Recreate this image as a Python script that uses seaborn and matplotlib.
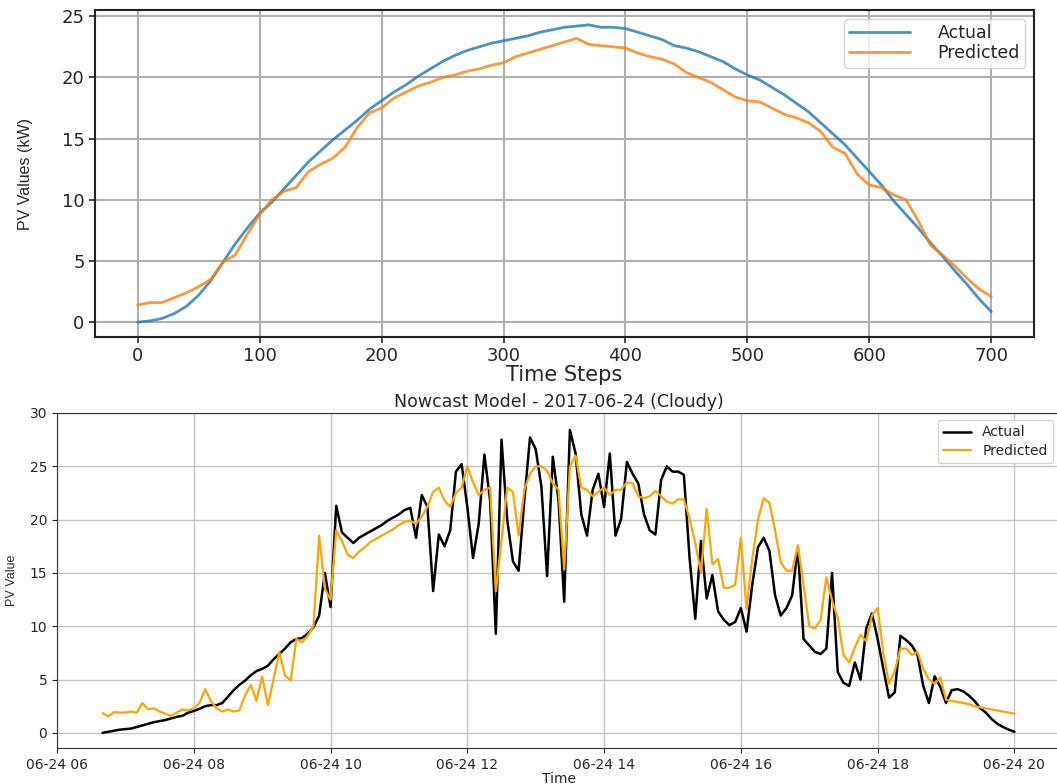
import pandas as pd
import seaborn as sns
import matplotlib
matplotlib.use("Agg")
import matplotlib.pyplot as plt
import matplotlib.dates as mdates

# ---- top panel: clear-sky day, sampled every 10 time steps ----
steps = list(range(0, 701, 10))
top_actual = [
    0.0, 0.1, 0.3, 0.7, 1.3, 2.2, 3.4, 4.9, 6.4, 7.7,
    8.9, 9.8, 10.9, 12.0, 13.1, 14.0, 14.9, 15.7, 16.5, 17.4,
    18.1, 18.8, 19.4, 20.1, 20.7, 21.3, 21.8, 22.2, 22.5, 22.8,
    23.0, 23.2, 23.4, 23.7, 23.9, 24.1, 24.2, 24.3, 24.1, 24.1,
    24.0, 23.7, 23.4, 23.1, 22.6, 22.4, 22.1, 21.7, 21.3, 20.7,
    20.2, 19.8, 19.2, 18.6, 17.9, 17.2, 16.3, 15.4, 14.5, 13.4,
    12.3, 11.2, 9.9, 8.8, 7.7, 6.5, 5.4, 4.2, 3.1, 1.9,
    0.85,
]
top_predicted = [
    1.4, 1.6, 1.6, 2.0, 2.4, 2.9, 3.5, 4.9, 5.5, 7.2,
    8.8, 10.0, 10.7, 11.0, 12.3, 12.9, 13.4, 14.3, 15.9, 17.1,
    17.5, 18.3, 18.8, 19.3, 19.6, 20.0, 20.2, 20.5, 20.7, 21.0,
    21.2, 21.7, 22.0, 22.3, 22.6, 22.9, 23.2, 22.7, 22.6, 22.5,
    22.4, 22.0, 21.7, 21.5, 21.1, 20.4, 20.0, 19.6, 19.0, 18.4,
    18.1, 18.0, 17.5, 17.0, 16.7, 16.3, 15.6, 14.3, 13.8, 12.1,
    11.2, 11.0, 10.4, 10.0, 8.3, 6.3, 5.5, 4.6, 3.6, 2.7,
    2.1,
]

# ---- bottom panel: nowcast 2017-06-24, every 5 min from 06:40 to 20:00 ----
nowcast_start = "2017-06-24 06:40"
nowcast_freq = "5min"
now_actual = [
    0.0, 0.1, 0.2, 0.3, 0.35, 0.4, 0.55, 0.7, 0.85, 1.0,
    1.1, 1.2, 1.35, 1.5, 1.6, 1.9, 2.05, 2.25, 2.5, 2.6,
    2.6, 2.8, 3.4, 4.0, 4.5, 4.9, 5.4, 5.8, 6.0, 6.3,
    6.9, 7.4, 7.9, 8.5, 8.8, 8.9, 9.3, 9.9, 11.0, 15.0,
    11.8, 21.3, 18.8, 18.3, 17.8, 18.3, 18.6, 18.9, 19.2, 19.5,
    19.9, 20.2, 20.5, 20.9, 21.1, 18.3, 22.3, 21.2, 13.3, 18.6,
    17.5, 19.0, 24.5, 25.2, 21.2, 16.4, 19.6, 26.1, 21.8, 9.3,
    27.5, 20.0, 16.1, 15.2, 21.8, 27.7, 26.6, 23.1, 14.7, 25.9,
    21.8, 12.3, 28.4, 26.2, 20.5, 18.5, 22.8, 24.3, 21.2, 26.2,
    18.5, 20.1, 25.4, 24.3, 23.4, 20.5, 19.0, 18.6, 23.7, 25.0,
    24.5, 24.5, 24.2, 16.4, 10.7, 18.0, 12.6, 14.8, 11.4, 10.6,
    10.1, 10.4, 11.7, 9.5, 13.9, 17.4, 18.3, 17.1, 12.9, 11.0,
    11.7, 12.9, 17.4, 8.8, 8.2, 7.6, 7.4, 7.9, 15.0, 5.7,
    4.7, 4.4, 6.6, 5.0, 9.8, 11.2, 8.8, 6.0, 3.3, 3.8,
    9.1, 8.7, 8.2, 7.3, 4.4, 2.8, 5.3, 4.3, 2.8, 4.0,
    4.1, 3.9, 3.5, 3.0, 2.3, 1.9, 1.3, 0.85, 0.55, 0.3,
    0.1,
]
now_predicted = [
    1.85, 1.55, 1.95, 1.9, 1.9, 2.0, 1.9, 2.8, 2.2, 2.3,
    2.0, 1.8, 1.6, 1.9, 2.2, 2.1, 2.3, 2.8, 4.1, 3.0,
    2.3, 2.0, 2.2, 2.0, 2.1, 3.5, 4.5, 3.0, 5.3, 2.6,
    5.0, 7.6, 5.4, 4.9, 8.8, 8.5, 9.1, 10.0, 18.5, 13.5,
    12.5, 19.0, 18.0, 16.7, 16.4, 17.0, 17.4, 17.9, 18.2, 18.5,
    18.8, 19.1, 19.5, 19.8, 19.9, 19.6, 20.3, 21.2, 22.6, 23.0,
    21.8, 21.2, 22.5, 23.0, 25.0, 23.5, 22.3, 22.8, 23.0, 13.3,
    18.0, 23.0, 22.6, 18.5, 22.8, 24.3, 25.0, 25.0, 24.6, 23.4,
    22.8, 15.3, 25.0, 26.0, 23.0, 22.8, 22.2, 22.6, 23.0, 22.3,
    22.8, 22.8, 23.5, 23.4, 22.2, 22.0, 22.2, 22.7, 22.2, 21.7,
    21.5, 21.9, 21.9, 20.1, 17.8, 15.0, 21.0, 15.8, 16.3, 13.6,
    13.6, 13.9, 18.3, 11.6, 16.3, 20.0, 22.0, 21.6, 19.0, 16.0,
    15.2, 15.2, 17.6, 13.9, 10.0, 9.8, 10.6, 14.6, 12.4, 10.8,
    7.3, 6.6, 8.0, 9.2, 8.6, 11.0, 11.7, 7.5, 4.6, 5.8,
    7.9, 7.9, 7.3, 7.6, 6.0, 5.0, 4.6, 5.2, 3.1, 3.0,
    2.9, 2.8, 2.7, 2.5, 2.4, 2.3, 2.2, 2.1, 2.0, 1.9,
    1.8,
]

# narrower face for the y labels, as in the original
narrow = ["Liberation Sans", "DejaVu Sans"]


def configure_seaborn():
    sns.set_style("ticks")
    plt.rcParams["font.family"] = ["DejaVu Sans"]


def plot_top(ax):
    sns.lineplot(x=steps, y=top_actual, ax=ax, color="tab:blue", alpha=0.8,
                 linewidth=2.0, label="Actual")
    sns.lineplot(x=steps, y=top_predicted, ax=ax, color="tab:orange", alpha=0.8,
                 linewidth=2.0, label="Predicted")
    ax.set_xticks(range(0, 701, 100))
    ax.set_yticks(range(0, 26, 5))
    ax.grid(True, color="#b0b0b0", linewidth=1.5)
    ax.tick_params(labelsize=13, length=4.5, width=1.2, pad=3)
    for s in ax.spines.values():
        s.set_color("#222222")
        s.set_linewidth(1.5)
    ax.set_xlabel("Time Steps", fontsize=15, labelpad=0)
    ax.set_ylabel("PV Values (kW)", fontsize=11.5, family=narrow)
    ax.yaxis.set_label_coords(-0.066, 0.5)
    ax.legend(loc="upper right", fontsize=12.5, handlelength=3.5,
              handletextpad=1.6, labelspacing=0.15, borderpad=0.3)


def plot_bottom(ax):
    times = pd.date_range(nowcast_start, periods=len(now_actual), freq=nowcast_freq)
    sns.lineplot(x=times, y=now_actual, ax=ax, color="black", linewidth=1.8,
                 label="Actual")
    sns.lineplot(x=times, y=now_predicted, ax=ax, color="orange", linewidth=1.6,
                 label="Predicted")
    ax.xaxis.set_major_locator(mdates.HourLocator(byhour=range(0, 24, 2)))
    ax.xaxis.set_major_formatter(mdates.DateFormatter("%m-%d %H"))
    ax.set_yticks(range(0, 31, 5))
    ax.grid(True, color="#c4c4c4", linewidth=1.0)
    ax.tick_params(labelsize=10)
    for s in ax.spines.values():
        s.set_color("#333333")
    ax.set_title("Nowcast Model - 2017-06-24 (Cloudy)", fontsize=12.5, pad=4)
    ax.set_xlabel("Time", fontsize=10, labelpad=0)
    ax.set_ylabel("PV Value", fontsize=9, family=narrow)
    ax.yaxis.set_label_coords(-0.039, 0.5)
    ax.legend(loc="upper right", fontsize=10, labelspacing=0.3)


def main():
    configure_seaborn()
    fig = plt.figure(figsize=(10.57, 7.84), dpi=100)
    ax_top = fig.add_axes([95 / 1057, 1 - 337 / 784, 939 / 1057, 327 / 784])
    ax_bot = fig.add_axes([57 / 1057, 1 - 748 / 784, 1003 / 1057, 335 / 784])
    plot_top(ax_top)
    plot_bottom(ax_bot)
    fig.savefig("out.png", dpi=100)
    plt.close(fig)


if __name__ == "__main__":
    main()
